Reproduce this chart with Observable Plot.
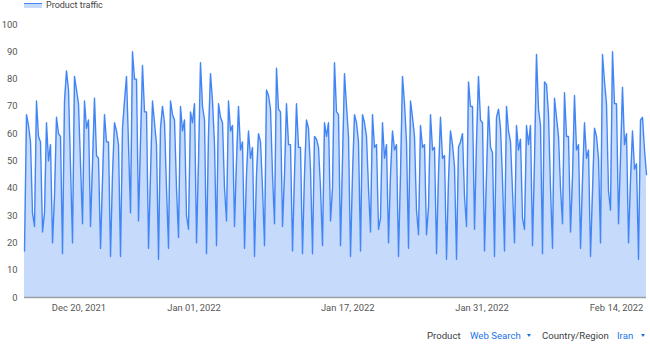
<!DOCTYPE html>
<html>
<head>
<meta charset="utf-8">
<script src="https://cdn.jsdelivr.net/npm/d3@7"></script>
<script src="https://cdn.jsdelivr.net/npm/@observablehq/plot@0.6"></script>
<style>
  html, body { margin: 0; padding: 0; background: #fff; }
  body { width: 650px; height: 345px; overflow: hidden; font-family: Roboto, "Noto Sans", sans-serif; }
  #legend { position: relative; height: 12px; }
  #legend .sw { position: absolute; left: 24px; top: 3px; width: 18px; height: 4px; background: #c6dafc; border-top: 1.5px solid #4285f4; }
  #legend .tx { position: absolute; left: 46px; top: 0px; font-size: 9px; line-height: 11px; color: #444; }
  #controls { position: relative; height: 27px; font-size: 9.6px; }
  #controls span { position: absolute; top: 9px; line-height: 18px; white-space: nowrap; }
  #controls .lab { color: #3c4043; }
  #controls .val { color: #1a73e8; }
  #controls .arr { position: absolute; top: 16px; width: 0; height: 0; border-left: 2.5px solid transparent; border-right: 2.5px solid transparent; border-top: 3.5px solid #1a73e8; }
</style>
</head>
<body>
<div id="legend"><div class="sw"></div><div class="tx">Product traffic</div></div>
<div id="chart"></div>
<div id="controls">
  <span class="lab" style="left:427px">Product</span>
  <span class="val" style="left:470px">Web Search</span>
  <div class="arr" style="left:527px"></div>
  <span class="lab" style="left:542px">Country/Region</span>
  <span class="val" style="left:617px">Iran</span>
  <div class="arr" style="left:641px"></div>
</div>
<script>
// Product traffic values, one reading every 5 hours from 2021-12-14 08:00
const values = [
  17, 67, 63, 57, 31, 26, 72, 59, 57, 24, 31, 64, 50, 56, 20, 37, 66, 60, 59, 16,
  72, 83, 76, 48, 20, 81, 76, 71, 49, 27, 72, 62, 65, 26, 49, 73, 52, 51, 18, 43,
  67, 57, 57, 15, 45, 64, 61, 56, 15, 62, 72, 81, 56, 31, 90, 80, 80, 28, 57, 85,
  68, 68, 18, 45, 72, 64, 56, 14, 62, 70, 64, 40, 18, 72, 67, 65, 40, 22, 70, 61,
  65, 30, 25, 68, 64, 71, 20, 50, 86, 70, 65, 16, 60, 82, 72, 56, 19, 71, 66, 64,
  40, 28, 72, 61, 63, 26, 50, 70, 54, 57, 18, 45, 61, 51, 55, 15, 45, 60, 57, 40,
  19, 76, 74, 69, 45, 27, 84, 69, 68, 26, 45, 71, 56, 56, 17, 45, 71, 55, 55, 16,
  45, 65, 62, 47, 16, 59, 58, 55, 40, 19, 64, 59, 64, 28, 40, 86, 68, 67, 19, 50,
  82, 70, 59, 15, 45, 67, 64, 57, 17, 67, 64, 59, 40, 24, 67, 55, 56, 25, 29, 64,
  51, 56, 20, 45, 61, 54, 56, 15, 45, 81, 71, 57, 18, 72, 66, 59, 32, 23, 63, 55,
  56, 23, 33, 67, 54, 55, 16, 45, 66, 51, 52, 14, 43, 61, 56, 48, 14, 55, 57, 60,
  37, 26, 79, 70, 70, 25, 57, 81, 65, 64, 17, 45, 70, 55, 53, 15, 66, 69, 62, 43,
  17, 70, 61, 57, 39, 20, 63, 54, 58, 29, 25, 63, 56, 63, 19, 50, 89, 69, 63, 16,
  79, 78, 67, 40, 18, 73, 66, 59, 40, 27, 75, 59, 59, 24, 44, 74, 54, 56, 18, 43,
  64, 51, 54, 15, 39, 62, 59, 51, 20, 89, 79, 71, 39, 32, 90, 71, 71, 27, 51, 77,
  56, 60, 20, 43, 61, 47, 49, 14, 65, 66, 54, 45
];
const startUTC = Date.UTC(2021, 11, 14, 8);
const stepHours = 5;

const tickDates = ["2021-12-20", "2022-01-01", "2022-01-17", "2022-01-31", "2022-02-14"];
const tickLabels = ["Dec 20, 2021", "Jan 01, 2022", "Jan 17, 2022", "Jan 31, 2022", "Feb 14, 2022"];
const yTicks = [0, 10, 20, 30, 40, 50, 60, 70, 80, 90, 100];

const data = values.map((v, i) => ({
  date: new Date(startUTC + i * stepHours * 3600 * 1000),
  value: v
}));
const tickDateObjs = tickDates.map(s => new Date(s + "T00:00:00Z"));
const labelByTime = new Map(tickDateObjs.map((d, i) => [+d, tickLabels[i]]));

const chart = Plot.plot({
  width: 650,
  height: 306,
  marginTop: 12,
  marginBottom: 21,
  marginLeft: 24,
  marginRight: 4,
  style: { fontFamily: "Roboto, sans-serif", fontSize: "9.4px", color: "#555", background: "#fff", overflow: "visible" },
  x: {
    type: "utc",
    domain: [data[0].date, data[data.length - 1].date],
    ticks: tickDateObjs,
    tickFormat: d => labelByTime.get(+d) || "",
    tickSize: 0,
    tickPadding: 7,
    label: null
  },
  y: {
    domain: [0, 100],
    ticks: yTicks,
    tickSize: 0,
    tickPadding: 7,
    label: null
  },
  marks: [
    Plot.areaY(data, { x: "date", y: "value", fill: "#c6dafc" }),
    Plot.lineY(data, { x: "date", y: "value", stroke: "#4285f4", strokeWidth: 1.4 }),
    Plot.ruleY([0], { stroke: "#9aa0a6", strokeWidth: 1.5 })
  ]
});
document.getElementById("chart").appendChild(chart);
</script>
</body>
</html>
